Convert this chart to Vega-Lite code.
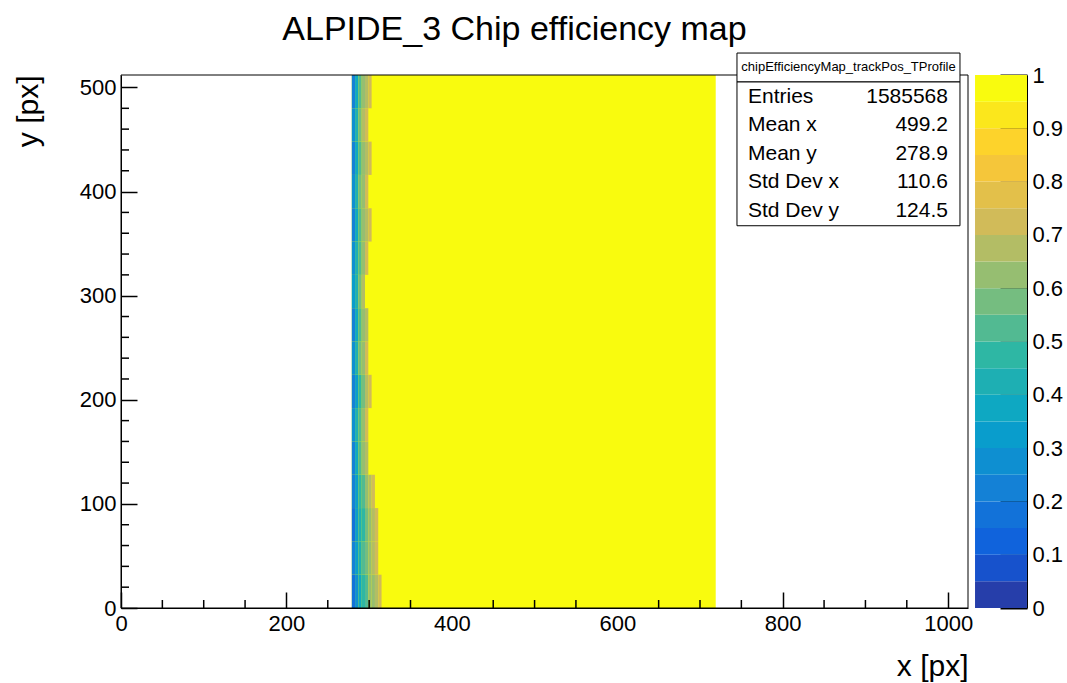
{
  "$schema": "https://vega.github.io/schema/vega-lite/v6.json",
  "width": 847,
  "height": 533,
  "autosize": {"type": "none"},
  "padding": {"left": 121, "top": 75, "right": 99, "bottom": 75},
  "background": "white",
  "title": {
    "text": "ALPIDE_3 Chip efficiency map",
    "font": "Liberation Sans",
    "fontSize": 34,
    "fontWeight": "normal",
    "color": "black",
    "anchor": "middle",
    "dx": -30,
    "dy": 45,
    "offset": 24,
    "baseline": "alphabetic"
  },
  "config": {
    "font": "Liberation Sans",
    "view": {"stroke": null},
    "axis": {
      "labelFont": "Liberation Sans",
      "titleFont": "Liberation Sans",
      "labelColor": "black",
      "titleColor": "black",
      "domainColor": "black",
      "tickColor": "black",
      "grid": false,
      "titleFontWeight": "normal",
      "zindex": 1,
      "labelFlush": false,
      "labelOverlap": false
    },
    "text": {"font": "Liberation Sans"}
  },
  "datasets": {
    "cells": [
      {"x0": 279, "x1": 719, "y0": 0, "y1": 512, "eff": 0.99},
      {"x0": 279, "x1": 283, "y0": 0, "y1": 32, "eff": 0.18},
      {"x0": 283, "x1": 287, "y0": 0, "y1": 32, "eff": 0.28},
      {"x0": 287, "x1": 291, "y0": 0, "y1": 32, "eff": 0.38},
      {"x0": 291, "x1": 295, "y0": 0, "y1": 32, "eff": 0.46},
      {"x0": 295, "x1": 299, "y0": 0, "y1": 32, "eff": 0.54},
      {"x0": 299, "x1": 303, "y0": 0, "y1": 32, "eff": 0.60},
      {"x0": 303, "x1": 307, "y0": 0, "y1": 32, "eff": 0.64},
      {"x0": 307, "x1": 311, "y0": 0, "y1": 32, "eff": 0.68},
      {"x0": 311, "x1": 315, "y0": 0, "y1": 32, "eff": 0.72},
      {"x0": 279, "x1": 283, "y0": 32, "y1": 64, "eff": 0.22},
      {"x0": 283, "x1": 287, "y0": 32, "y1": 64, "eff": 0.32},
      {"x0": 287, "x1": 291, "y0": 32, "y1": 64, "eff": 0.42},
      {"x0": 291, "x1": 295, "y0": 32, "y1": 64, "eff": 0.50},
      {"x0": 295, "x1": 299, "y0": 32, "y1": 64, "eff": 0.57},
      {"x0": 299, "x1": 303, "y0": 32, "y1": 64, "eff": 0.62},
      {"x0": 303, "x1": 307, "y0": 32, "y1": 64, "eff": 0.67},
      {"x0": 307, "x1": 311, "y0": 32, "y1": 64, "eff": 0.71},
      {"x0": 279, "x1": 283, "y0": 64, "y1": 96, "eff": 0.16},
      {"x0": 283, "x1": 287, "y0": 64, "y1": 96, "eff": 0.30},
      {"x0": 287, "x1": 291, "y0": 64, "y1": 96, "eff": 0.40},
      {"x0": 291, "x1": 295, "y0": 64, "y1": 96, "eff": 0.48},
      {"x0": 295, "x1": 299, "y0": 64, "y1": 96, "eff": 0.56},
      {"x0": 299, "x1": 303, "y0": 64, "y1": 96, "eff": 0.62},
      {"x0": 303, "x1": 307, "y0": 64, "y1": 96, "eff": 0.66},
      {"x0": 307, "x1": 311, "y0": 64, "y1": 96, "eff": 0.70},
      {"x0": 279, "x1": 283, "y0": 96, "y1": 128, "eff": 0.24},
      {"x0": 283, "x1": 287, "y0": 96, "y1": 128, "eff": 0.34},
      {"x0": 287, "x1": 291, "y0": 96, "y1": 128, "eff": 0.46},
      {"x0": 291, "x1": 295, "y0": 96, "y1": 128, "eff": 0.54},
      {"x0": 295, "x1": 299, "y0": 96, "y1": 128, "eff": 0.60},
      {"x0": 299, "x1": 303, "y0": 96, "y1": 128, "eff": 0.65},
      {"x0": 303, "x1": 307, "y0": 96, "y1": 128, "eff": 0.70},
      {"x0": 279, "x1": 283, "y0": 128, "y1": 160, "eff": 0.22},
      {"x0": 283, "x1": 287, "y0": 128, "y1": 160, "eff": 0.36},
      {"x0": 287, "x1": 291, "y0": 128, "y1": 160, "eff": 0.50},
      {"x0": 291, "x1": 295, "y0": 128, "y1": 160, "eff": 0.60},
      {"x0": 295, "x1": 299, "y0": 128, "y1": 160, "eff": 0.66},
      {"x0": 279, "x1": 283, "y0": 160, "y1": 192, "eff": 0.26},
      {"x0": 283, "x1": 287, "y0": 160, "y1": 192, "eff": 0.40},
      {"x0": 287, "x1": 291, "y0": 160, "y1": 192, "eff": 0.54},
      {"x0": 291, "x1": 295, "y0": 160, "y1": 192, "eff": 0.63},
      {"x0": 295, "x1": 299, "y0": 160, "y1": 192, "eff": 0.70},
      {"x0": 279, "x1": 283, "y0": 192, "y1": 224, "eff": 0.20},
      {"x0": 283, "x1": 287, "y0": 192, "y1": 224, "eff": 0.34},
      {"x0": 287, "x1": 291, "y0": 192, "y1": 224, "eff": 0.48},
      {"x0": 291, "x1": 295, "y0": 192, "y1": 224, "eff": 0.58},
      {"x0": 295, "x1": 299, "y0": 192, "y1": 224, "eff": 0.65},
      {"x0": 299, "x1": 303, "y0": 192, "y1": 224, "eff": 0.70},
      {"x0": 279, "x1": 283, "y0": 224, "y1": 256, "eff": 0.28},
      {"x0": 283, "x1": 287, "y0": 224, "y1": 256, "eff": 0.42},
      {"x0": 287, "x1": 291, "y0": 224, "y1": 256, "eff": 0.56},
      {"x0": 291, "x1": 295, "y0": 224, "y1": 256, "eff": 0.64},
      {"x0": 295, "x1": 299, "y0": 224, "y1": 256, "eff": 0.71},
      {"x0": 279, "x1": 283, "y0": 256, "y1": 288, "eff": 0.24},
      {"x0": 283, "x1": 287, "y0": 256, "y1": 288, "eff": 0.38},
      {"x0": 287, "x1": 291, "y0": 256, "y1": 288, "eff": 0.52},
      {"x0": 291, "x1": 295, "y0": 256, "y1": 288, "eff": 0.62},
      {"x0": 295, "x1": 299, "y0": 256, "y1": 288, "eff": 0.68},
      {"x0": 279, "x1": 283, "y0": 288, "y1": 320, "eff": 0.30},
      {"x0": 283, "x1": 287, "y0": 288, "y1": 320, "eff": 0.44},
      {"x0": 287, "x1": 291, "y0": 288, "y1": 320, "eff": 0.57},
      {"x0": 291, "x1": 295, "y0": 288, "y1": 320, "eff": 0.66},
      {"x0": 279, "x1": 283, "y0": 320, "y1": 352, "eff": 0.26},
      {"x0": 283, "x1": 287, "y0": 320, "y1": 352, "eff": 0.40},
      {"x0": 287, "x1": 291, "y0": 320, "y1": 352, "eff": 0.54},
      {"x0": 291, "x1": 295, "y0": 320, "y1": 352, "eff": 0.63},
      {"x0": 295, "x1": 299, "y0": 320, "y1": 352, "eff": 0.70},
      {"x0": 279, "x1": 283, "y0": 352, "y1": 384, "eff": 0.20},
      {"x0": 283, "x1": 287, "y0": 352, "y1": 384, "eff": 0.36},
      {"x0": 287, "x1": 291, "y0": 352, "y1": 384, "eff": 0.50},
      {"x0": 291, "x1": 295, "y0": 352, "y1": 384, "eff": 0.60},
      {"x0": 295, "x1": 299, "y0": 352, "y1": 384, "eff": 0.67},
      {"x0": 299, "x1": 303, "y0": 352, "y1": 384, "eff": 0.72},
      {"x0": 279, "x1": 283, "y0": 384, "y1": 416, "eff": 0.28},
      {"x0": 283, "x1": 287, "y0": 384, "y1": 416, "eff": 0.42},
      {"x0": 287, "x1": 291, "y0": 384, "y1": 416, "eff": 0.56},
      {"x0": 291, "x1": 295, "y0": 384, "y1": 416, "eff": 0.64},
      {"x0": 295, "x1": 299, "y0": 384, "y1": 416, "eff": 0.70},
      {"x0": 279, "x1": 283, "y0": 416, "y1": 448, "eff": 0.22},
      {"x0": 283, "x1": 287, "y0": 416, "y1": 448, "eff": 0.36},
      {"x0": 287, "x1": 291, "y0": 416, "y1": 448, "eff": 0.52},
      {"x0": 291, "x1": 295, "y0": 416, "y1": 448, "eff": 0.62},
      {"x0": 295, "x1": 299, "y0": 416, "y1": 448, "eff": 0.68},
      {"x0": 299, "x1": 303, "y0": 416, "y1": 448, "eff": 0.72},
      {"x0": 279, "x1": 283, "y0": 448, "y1": 480, "eff": 0.26},
      {"x0": 283, "x1": 287, "y0": 448, "y1": 480, "eff": 0.42},
      {"x0": 287, "x1": 291, "y0": 448, "y1": 480, "eff": 0.56},
      {"x0": 291, "x1": 295, "y0": 448, "y1": 480, "eff": 0.65},
      {"x0": 295, "x1": 299, "y0": 448, "y1": 480, "eff": 0.71},
      {"x0": 279, "x1": 283, "y0": 480, "y1": 512, "eff": 0.24},
      {"x0": 283, "x1": 287, "y0": 480, "y1": 512, "eff": 0.38},
      {"x0": 287, "x1": 291, "y0": 480, "y1": 512, "eff": 0.52},
      {"x0": 291, "x1": 295, "y0": 480, "y1": 512, "eff": 0.62},
      {"x0": 295, "x1": 299, "y0": 480, "y1": 512, "eff": 0.68},
      {"x0": 299, "x1": 303, "y0": 480, "y1": 512, "eff": 0.72}
    ],
    "levels": [
      {"lo": 0.00, "hi": 0.05, "mid": 0.025},
      {"lo": 0.05, "hi": 0.10, "mid": 0.075},
      {"lo": 0.10, "hi": 0.15, "mid": 0.125},
      {"lo": 0.15, "hi": 0.20, "mid": 0.175},
      {"lo": 0.20, "hi": 0.25, "mid": 0.225},
      {"lo": 0.25, "hi": 0.30, "mid": 0.275},
      {"lo": 0.30, "hi": 0.35, "mid": 0.325},
      {"lo": 0.35, "hi": 0.40, "mid": 0.375},
      {"lo": 0.40, "hi": 0.45, "mid": 0.425},
      {"lo": 0.45, "hi": 0.50, "mid": 0.475},
      {"lo": 0.50, "hi": 0.55, "mid": 0.525},
      {"lo": 0.55, "hi": 0.60, "mid": 0.575},
      {"lo": 0.60, "hi": 0.65, "mid": 0.625},
      {"lo": 0.65, "hi": 0.70, "mid": 0.675},
      {"lo": 0.70, "hi": 0.75, "mid": 0.725},
      {"lo": 0.75, "hi": 0.80, "mid": 0.775},
      {"lo": 0.80, "hi": 0.85, "mid": 0.825},
      {"lo": 0.85, "hi": 0.90, "mid": 0.875},
      {"lo": 0.90, "hi": 0.95, "mid": 0.925},
      {"lo": 0.95, "hi": 1.00, "mid": 0.975}
    ],
    "xMinorTicks": [
      {"t": 50}, {"t": 100}, {"t": 150}, {"t": 250}, {"t": 300}, {"t": 350},
      {"t": 450}, {"t": 500}, {"t": 550}, {"t": 650}, {"t": 700}, {"t": 750},
      {"t": 850}, {"t": 900}, {"t": 950}
    ],
    "yMinorTicks": [
      {"t": 20}, {"t": 40}, {"t": 60}, {"t": 80}, {"t": 120}, {"t": 140}, {"t": 160}, {"t": 180},
      {"t": 220}, {"t": 240}, {"t": 260}, {"t": 280}, {"t": 320}, {"t": 340}, {"t": 360}, {"t": 380},
      {"t": 420}, {"t": 440}, {"t": 460}, {"t": 480}
    ]
  },
  "resolve": {"scale": {"y": "independent"}},
  "layer": [
    {
      "layer": [
        {
          "data": {"name": "cells"},
          "mark": {"type": "rect"},
          "encoding": {
            "x": {
              "field": "x0",
              "type": "quantitative",
              "scale": {"domain": [0, 1024], "nice": false, "zero": false},
              "axis": {
                "values": [0, 200, 400, 600, 800, 1000],
                "format": "d",
                "labelOverlap": false,
                "tickSize": -16,
                "tickWidth": 1.5,
                "labelFontSize": 22,
                "labelPadding": 21,
                "title": "x [px]",
                "titleFontSize": 30,
                "titleAlign": "right",
                "titleAnchor": "end",
                "titleBaseline": "alphabetic",
                "titleX": 847,
                "titleY": 67
              }
            },
            "x2": {"field": "x1"},
            "y": {
              "field": "y0",
              "type": "quantitative",
              "scale": {"domain": [0, 512], "nice": false, "zero": false},
              "axis": {
                "values": [0, 100, 200, 300, 400, 500],
                "format": "d",
                "labelOverlap": false,
                "tickSize": -16,
                "tickWidth": 1.5,
                "labelFontSize": 22,
                "labelPadding": 21,
                "title": "y [px]",
                "titleFontSize": 30,
                "titleAngle": 270,
                "titleAlign": "right",
                "titleAnchor": "end",
                "titleBaseline": "middle",
                "titleX": -93,
                "titleY": 0
              }
            },
            "y2": {"field": "y1"},
            "color": {
              "field": "eff",
              "type": "quantitative",
              "scale": {
                "type": "quantize",
                "domain": [0, 1],
                "nice": false,
                "zero": false,
                "range": ["#263eaa", "#1752cc", "#1063dc", "#1272d9", "#1481d6", "#0e8fd1", "#099dcc", "#0ea8c2", "#1eafb3", "#2eb7a4", "#52ba92", "#75bd80", "#96be71", "#b3bd65", "#d1bb59", "#e3c04a", "#f5c63a", "#fdd32b", "#fbe71c", "#f9fb0e"]
              },
              "legend": null
            }
          }
        },
        {
          "data": {"values": [{}]},
          "mark": {"type": "rect", "filled": false, "stroke": "black", "strokeWidth": 1},
          "encoding": {
            "x": {"datum": 0},
            "x2": {"datum": 1024},
            "y": {"datum": 0},
            "y2": {"datum": 512}
          }
        },
        {
          "data": {"name": "xMinorTicks"},
          "mark": {"type": "rule", "color": "black", "strokeWidth": 1.5},
          "encoding": {
            "x": {"field": "t", "type": "quantitative"},
            "y": {"datum": 0},
            "y2": {"datum": 7.7}
          }
        },
        {
          "data": {"name": "yMinorTicks"},
          "mark": {"type": "rule", "color": "black", "strokeWidth": 1.5},
          "encoding": {
            "y": {"field": "t", "type": "quantitative"},
            "x": {"datum": 0},
            "x2": {"datum": 9.7}
          }
        },
        {
          "data": {"values": [{}]},
          "mark": {"type": "rect", "fill": "white", "stroke": "black", "strokeWidth": 1},
          "encoding": {
            "x": {"datum": 744.7},
            "x2": {"datum": 1014.3},
            "y": {"datum": 533.1},
            "y2": {"datum": 505.3}
          }
        },
        {
          "data": {"values": [{}]},
          "mark": {"type": "rect", "fill": "white", "stroke": "black", "strokeWidth": 1},
          "encoding": {
            "x": {"datum": 744.7},
            "x2": {"datum": 1014.3},
            "y": {"datum": 505.3},
            "y2": {"datum": 367.2}
          }
        },
        {
          "data": {"values": [{}]},
          "mark": {"type": "text", "text": "chipEfficiencyMap_trackPos_TProfile", "fontSize": 13, "align": "center", "baseline": "middle", "color": "black"},
          "encoding": {
            "x": {"datum": 879.5},
            "y": {"datum": 519.7}
          }
        },
        {
          "data": {"values": [{}]},
          "mark": {"type": "text", "text": ["Entries", "Mean x", "Mean y", "Std Dev x", "Std Dev y"], "fontSize": 21, "lineHeight": 28.4, "align": "left", "baseline": "alphabetic", "color": "black"},
          "encoding": {
            "x": {"datum": 758},
            "y": {"datum": 485.0}
          }
        },
        {
          "data": {"values": [{}]},
          "mark": {"type": "text", "text": ["1585568", "499.2", "278.9", "110.6", "124.5"], "fontSize": 21, "lineHeight": 28.4, "align": "right", "baseline": "alphabetic", "color": "black"},
          "encoding": {
            "x": {"datum": 999.8},
            "y": {"datum": 485.0}
          }
        }
      ]
    },
    {
      "data": {"name": "levels"},
      "mark": {"type": "rect"},
      "encoding": {
        "x": {"datum": 1032.5},
        "x2": {"datum": 1095.3},
        "y": {
          "field": "lo",
          "type": "quantitative",
          "scale": {"domain": [0, 1], "nice": false, "zero": false},
          "axis": {
            "orient": "right",
            "offset": 59,
            "values": [0, 0.1, 0.2, 0.3, 0.4, 0.5, 0.6, 0.7, 0.8, 0.9, 1],
            "format": "~g",
            "labelOverlap": false,
            "tickSize": -27,
            "tickWidth": 2,
            "labelFontSize": 22,
            "labelPadding": 32,
            "title": null
          }
        },
        "y2": {"field": "hi"},
        "color": {
          "field": "mid",
          "type": "quantitative",
          "scale": {
            "type": "quantize",
            "domain": [0, 1],
            "nice": false,
            "zero": false,
            "range": ["#263eaa", "#1752cc", "#1063dc", "#1272d9", "#1481d6", "#0e8fd1", "#099dcc", "#0ea8c2", "#1eafb3", "#2eb7a4", "#52ba92", "#75bd80", "#96be71", "#b3bd65", "#d1bb59", "#e3c04a", "#f5c63a", "#fdd32b", "#fbe71c", "#f9fb0e"]
          },
          "legend": null
        }
      }
    }
  ]
}
